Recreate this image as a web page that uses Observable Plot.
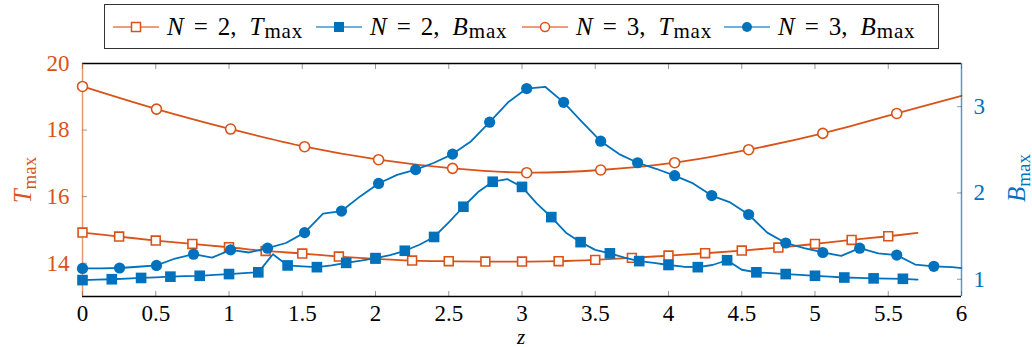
<!DOCTYPE html>
<html><head><meta charset="utf-8">
<script src="https://cdn.jsdelivr.net/npm/d3@7"></script>
<script src="https://cdn.jsdelivr.net/npm/@observablehq/plot@0.6"></script>
<style>
body{margin:0;background:#fff;}
#wrap{position:relative;width:1032px;height:347px;font-family:'Liberation Serif',serif;}
#wrap > svg{position:absolute;left:0;top:0;}
#legend{position:absolute;left:104px;top:4px;width:835px;height:45px;border:1.4px solid #333;box-sizing:border-box;background:#fff;z-index:3;}
.item{position:absolute;top:0;height:100%;display:flex;align-items:center;font-size:25px;white-space:nowrap;color:#000;font-family:'Liberation Serif',serif;}
.item svg{margin-right:8px;}
.op{margin:0 10px;}
.sub{font-size:21px;position:relative;top:5px;margin-left:1px;letter-spacing:0.8px;}
.gap{margin-left:13px;}
</style></head>
<body>
<div id="wrap">
  <div id="legend"></div>
</div>
<script>
// ---------- data ----------
const xTicks = [0, 0.5, 1, 1.5, 2, 2.5, 3, 3.5, 4, 4.5, 5, 5.5, 6];
const tTicks = [14, 16, 18, 20];
const bTicks = [1, 2, 3];
const xDomain = [0, 6];
const tDomain = [13, 20];
const bDomain = [0.8, 3.5];

// N = 2, T_max (markers every 0.25, line continues to 5.7)
const zT2 = [0, 0.25, 0.5, 0.75, 1, 1.25, 1.5, 1.75, 2, 2.25, 2.5, 2.75, 3, 3.25, 3.5, 3.75, 4, 4.25, 4.5, 4.75, 5, 5.25, 5.5, 5.7];
const T2  = [14.92, 14.80, 14.68, 14.58, 14.48, 14.37, 14.29, 14.20, 14.13, 14.08, 14.06, 14.05, 14.05, 14.06, 14.10, 14.16, 14.23, 14.30, 14.38, 14.47, 14.58, 14.70, 14.81, 14.91];
const T2markCount = 23;

// N = 3, T_max (markers, line continues to 6)
const zT3 = [0, 0.505, 1.011, 1.516, 2.021, 2.526, 3.032, 3.537, 4.042, 4.547, 5.053, 5.558, 6];
const T3  = [19.31, 18.63, 18.03, 17.50, 17.11, 16.85, 16.72, 16.80, 17.02, 17.41, 17.90, 18.50, 19.03];
const T3markCount = 12;

// N = 2, B_max (line every 0.1, marker every 0.2)
const zB2 = [0, 0.1, 0.2, 0.3, 0.4, 0.5, 0.6, 0.7, 0.8, 0.9, 1.0, 1.1, 1.2, 1.3, 1.4, 1.5, 1.6, 1.7, 1.8, 1.9,
             2.0, 2.1, 2.2, 2.3, 2.4, 2.5, 2.6, 2.7, 2.8, 2.9, 3.0, 3.1, 3.2, 3.3, 3.4, 3.5, 3.6, 3.7, 3.8, 3.9,
             4.0, 4.1, 4.2, 4.3, 4.4, 4.5, 4.6, 4.7, 4.8, 4.9, 5.0, 5.1, 5.2, 5.3, 5.4, 5.5, 5.6, 5.7];
const B2  = [0.99, 0.995, 1.00, 1.008, 1.015, 1.022, 1.03, 1.035, 1.04, 1.05, 1.06, 1.07, 1.08, 1.29, 1.16, 1.15, 1.14, 1.16, 1.19, 1.215,
             1.245, 1.28, 1.33, 1.40, 1.49, 1.66, 1.84, 2.01, 2.13, 2.16, 2.07, 1.88, 1.72, 1.54, 1.43, 1.34, 1.30, 1.25, 1.21, 1.19,
             1.165, 1.145, 1.14, 1.165, 1.22, 1.11, 1.08, 1.07, 1.06, 1.05, 1.04, 1.03, 1.02, 1.015, 1.01, 1.007, 1.005, 0.995];
const B2markEvery = 2, B2markCount = 29;

// N = 3, B_max (line every ~0.126, marker every other point)
const zB3 = [0, 0.126, 0.253, 0.379, 0.505, 0.632, 0.758, 0.884, 1.011, 1.137, 1.263, 1.389, 1.516, 1.642, 1.768, 1.895,
             2.021, 2.147, 2.274, 2.4, 2.526, 2.653, 2.779, 2.905, 3.032, 3.158, 3.284, 3.411, 3.537, 3.663, 3.789, 3.916,
             4.042, 4.168, 4.295, 4.421, 4.547, 4.674, 4.8, 4.926, 5.053, 5.179, 5.305, 5.432, 5.558, 5.684, 5.811, 5.937, 6];
const B3  = [1.125, 1.127, 1.13, 1.145, 1.16, 1.24, 1.29, 1.25, 1.34, 1.31, 1.36, 1.42, 1.54, 1.76, 1.79, 1.96,
             2.11, 2.21, 2.27, 2.35, 2.45, 2.60, 2.82, 3.05, 3.21, 3.23, 3.05, 2.82, 2.60, 2.45, 2.35, 2.28,
             2.20, 2.11, 1.97, 1.89, 1.75, 1.54, 1.42, 1.36, 1.31, 1.27, 1.36, 1.30, 1.28, 1.17, 1.15, 1.14, 1.13];
const B3markEvery = 2, B3markCount = 24;

const seriesLabels = [
  {N: 2, q: "T", color: "#D95319", sym: "square", filled: false},
  {N: 2, q: "B", color: "#0072BD", sym: "square", filled: true},
  {N: 3, q: "T", color: "#D95319", sym: "circle", filled: false},
  {N: 3, q: "B", color: "#0072BD", sym: "circle", filled: true}
];

// ---------- build ----------
const orange = "#D95319", blue = "#0072BD";
const W = 1032, H = 347, mL = 82, mR = 71, mT = 63, mB = 51;
const toRows = (zs, vs) => zs.map((z, i) => ({z, v: vs[i], i}));
const t2 = toRows(zT2, T2), t3 = toRows(zT3, T3), b2 = toRows(zB2, B2), b3 = toRows(zB3, B3);

const font = {fontFamily: "'Liberation Serif', serif", fontSize: "23px", overflow: "visible"};

const p1 = Plot.plot({
  width: W, height: H, marginLeft: mL, marginRight: mR, marginTop: mT, marginBottom: mB,
  style: {...font, background: "white"},
  x: {domain: xDomain}, y: {domain: tDomain},
  marks: [
    Plot.axisX({ticks: xTicks, tickSize: 0, tickPadding: 8, tickFormat: d => String(d), label: null, fill: "#000"}),
    Plot.axisX({ticks: xTicks, tickSize: -5, tickFormat: () => "", label: null, stroke: "#999"}),
    Plot.axisX({anchor: "top", ticks: xTicks, tickSize: -5, tickFormat: () => "", label: null, stroke: "#999"}),
    Plot.axisY({ticks: tTicks, tickSize: 0, tickPadding: 13, tickFormat: d => String(d), label: null, fill: orange}),
    Plot.axisY({ticks: tTicks, tickSize: -5, tickFormat: () => "", label: null, stroke: "#999"}),
    Plot.ruleY(tDomain, {stroke: "#000", strokeWidth: 1.3}),
    Plot.ruleX([xDomain[0]], {stroke: orange, strokeOpacity: 0.6, strokeWidth: 1.5}),
    Plot.line(t2, {x: "z", y: "v", stroke: orange, strokeWidth: 1.8, curve: "catmull-rom"}),
    Plot.line(t3, {x: "z", y: "v", stroke: orange, strokeWidth: 1.8, curve: "catmull-rom"}),
    Plot.dot(t2.filter(d => d.i < T2markCount), {x: "z", y: "v", symbol: "square", r: 5, stroke: orange, fill: "white", strokeWidth: 1.6}),
    Plot.dot(t3.filter(d => d.i < T3markCount), {x: "z", y: "v", symbol: "circle", r: 5, stroke: orange, fill: "white", strokeWidth: 1.6})
  ]
});

const p2 = Plot.plot({
  width: W, height: H, marginLeft: mL, marginRight: mR, marginTop: mT, marginBottom: mB,
  style: {...font, background: "transparent"},
  x: {domain: xDomain, axis: null}, y: {domain: bDomain},
  marks: [
    Plot.axisY({anchor: "right", ticks: bTicks, tickSize: 0, tickPadding: 12, tickFormat: d => String(d), label: null, fill: blue}),
    Plot.axisY({anchor: "right", ticks: bTicks, tickSize: -5, tickFormat: () => "", label: null, stroke: "#999"}),
    Plot.ruleX([xDomain[1]], {stroke: blue, strokeOpacity: 0.7, strokeWidth: 1.5}),
    Plot.line(b2, {x: "z", y: "v", stroke: blue, strokeWidth: 1.8}),
    Plot.line(b3, {x: "z", y: "v", stroke: blue, strokeWidth: 1.8}),
    Plot.dot(b2.filter(d => d.i % B2markEvery === 0 && d.i / B2markEvery < B2markCount), {x: "z", y: "v", symbol: "square", r: 6, fill: blue}),
    Plot.dot(b3.filter(d => d.i % B3markEvery === 0 && d.i / B3markEvery < B3markCount), {x: "z", y: "v", symbol: "circle", r: 5.6, fill: blue})
  ]
});

const wrap = document.getElementById("wrap");
wrap.insertBefore(p2, wrap.firstChild);
wrap.insertBefore(p1, wrap.firstChild);

// axis titles
const s2 = d3.select(p2);
const tl = s2.append("text").attr("transform", "translate(31,180) rotate(-90)").attr("text-anchor", "middle").attr("fill", orange).style("font-size", "25px");
tl.append("tspan").attr("font-style", "italic").text("T");
tl.append("tspan").attr("dy", 5).style("font-size", "19px").text("max");
const bl = s2.append("text").attr("transform", "translate(1025,178) rotate(-90)").attr("text-anchor", "middle").attr("fill", blue).style("font-size", "25px");
bl.append("tspan").attr("font-style", "italic").text("B");
bl.append("tspan").attr("dy", 5).style("font-size", "19px").text("max");
s2.append("text").attr("x", 521).attr("y", 344).attr("text-anchor", "middle").attr("font-style", "italic").attr("fill", "#000").style("font-size", "21px").text("z");

// legend
const legend = document.getElementById("legend");
const lefts = [8, 211, 417, 619];
seriesLabels.forEach((s, k) => {
  const it = document.createElement("div");
  it.className = "item";
  it.style.left = lefts[k] + "px";
  let mk;
  if (s.sym === "square") {
    const a = s.filled ? 10 : 9;
    mk = `<rect x="${23 - a/2}" y="${10 - a/2}" width="${a}" height="${a}" fill="${s.filled ? s.color : 'white'}" stroke="${s.color}" stroke-width="${s.filled ? 0 : 1.5}"/>`;
  } else {
    mk = s.filled ? `<circle cx="23" cy="10" r="5" fill="${s.color}"/>` : `<circle cx="23" cy="10" r="4.5" fill="white" stroke="${s.color}" stroke-width="1.5"/>`;
  }
  it.innerHTML = `<svg width="46" height="20"><line x1="0" x2="46" y1="10" y2="10" stroke="${s.color}" stroke-opacity="0.75" stroke-width="1.6"/>${mk}</svg>` +
    `<i>N</i><span class="op">=</span>${s.N},<i class="gap">${s.q}</i><span class="sub">max</span>`;
  legend.appendChild(it);
});
</script>
</body></html>
